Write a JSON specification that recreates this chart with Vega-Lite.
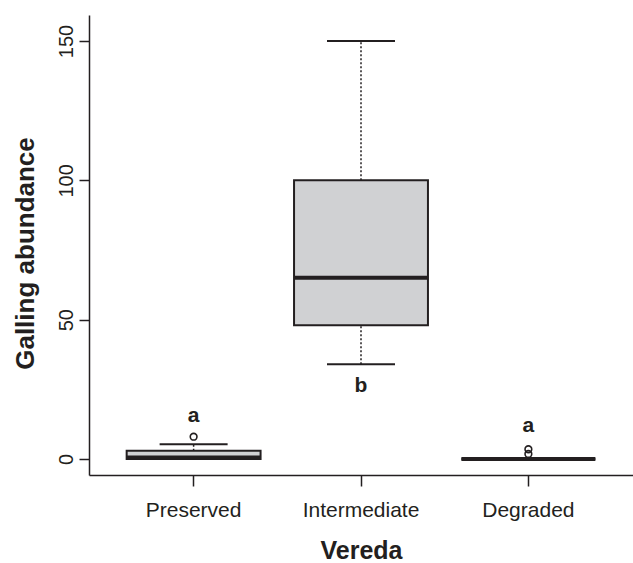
{
  "$schema": "https://vega.github.io/schema/vega-lite/v6.json",
  "autosize": "none",
  "padding": {"left": 89, "top": 15, "right": 0, "bottom": 88},
  "width": 544,
  "height": 460,
  "background": "white",
  "config": {
    "view": {"stroke": null},
    "font": "Liberation Sans"
  },
  "datasets": {
    "stats": [
      {"Vereda": "Preserved", "lower": 0, "q1": 0, "median": 0.5, "q3": 3, "upper": 5.3},
      {"Vereda": "Intermediate", "lower": 34, "q1": 48, "median": 65, "q3": 100, "upper": 150},
      {"Vereda": "Degraded", "lower": 0, "q1": 0, "median": 0, "q3": 0, "upper": 0}
    ],
    "outliers": [
      {"Vereda": "Preserved", "value": 8},
      {"Vereda": "Degraded", "value": 1.8},
      {"Vereda": "Degraded", "value": 3.5}
    ],
    "letters": [
      {"Vereda": "Preserved", "letter": "a", "pos": 13.3},
      {"Vereda": "Intermediate", "letter": "b", "pos": 24},
      {"Vereda": "Degraded", "letter": "a", "pos": 9.7}
    ]
  },
  "encoding": {
    "x": {
      "field": "Vereda",
      "type": "nominal",
      "sort": ["Preserved", "Intermediate", "Degraded"],
      "scale": {"type": "band", "paddingInner": 0.2, "paddingOuter": 0.225},
      "axis": {
        "title": "Vereda",
        "labelAngle": 0,
        "labelFontSize": 21,
        "labelColor": "#231f20",
        "labelBaseline": "alphabetic",
        "labelPadding": 30,
        "tickSize": 11,
        "tickWidth": 1.5,
        "tickColor": "#231f20",
        "domainColor": "#231f20",
        "domainWidth": 1.5,
        "titleFontSize": 25,
        "titleFontWeight": "bold",
        "titleColor": "#231f20",
        "titleBaseline": "alphabetic",
        "titleY": 83,
        "grid": false
      }
    }
  },
  "layer": [
    {
      "data": {"name": "stats"},
      "mark": {"type": "rule", "strokeDash": [2, 2], "strokeWidth": 1.5, "color": "#231f20"},
      "encoding": {
        "y": {
          "field": "q3",
          "type": "quantitative",
          "scale": {"domain": [-5.74, 159.33], "nice": false, "zero": false},
          "axis": {
            "title": "Galling abundance",
            "values": [0, 50, 100, 150],
            "labelAngle": -90,
            "labelAlign": "center",
            "labelBaseline": "alphabetic",
            "labelPadding": 7,
            "labelFontSize": 20,
            "labelColor": "#231f20",
            "tickSize": 10,
            "tickWidth": 1.5,
            "tickColor": "#231f20",
            "domainColor": "#231f20",
            "domainWidth": 1.5,
            "grid": false,
            "titleFontSize": 26,
            "titleFontWeight": "bold",
            "titleColor": "#231f20",
            "titleAngle": -90,
            "titleAlign": "center",
            "titleBaseline": "alphabetic",
            "titleX": -56,
            "titleY": 238
          }
        },
        "y2": {"field": "upper"}
      }
    },
    {
      "data": {"name": "stats"},
      "mark": {"type": "rule", "strokeDash": [2, 2], "strokeWidth": 1.5, "color": "#231f20"},
      "encoding": {
        "y": {"field": "lower", "type": "quantitative"},
        "y2": {"field": "q1"}
      }
    },
    {
      "data": {"name": "stats"},
      "mark": {"type": "tick", "size": 68, "thickness": 2, "color": "#231f20", "opacity": 1},
      "encoding": {"y": {"field": "upper", "type": "quantitative"}}
    },
    {
      "data": {"name": "stats"},
      "mark": {"type": "tick", "size": 68, "thickness": 2, "color": "#231f20", "opacity": 1},
      "encoding": {"y": {"field": "lower", "type": "quantitative"}}
    },
    {
      "data": {"name": "stats"},
      "mark": {"type": "bar", "fill": "#d0d1d3", "stroke": "#231f20", "strokeWidth": 2},
      "encoding": {
        "y": {"field": "q1", "type": "quantitative"},
        "y2": {"field": "q3"}
      }
    },
    {
      "data": {"name": "stats"},
      "mark": {"type": "tick", "size": 134, "thickness": 4, "color": "#231f20", "opacity": 1},
      "encoding": {"y": {"field": "median", "type": "quantitative"}}
    },
    {
      "data": {"name": "outliers"},
      "mark": {"type": "point", "shape": "circle", "filled": false, "size": 45, "strokeWidth": 1.6, "color": "#231f20", "opacity": 1},
      "encoding": {"y": {"field": "value", "type": "quantitative"}}
    },
    {
      "data": {"name": "letters"},
      "mark": {"type": "text", "fontSize": 21, "fontWeight": "bold", "baseline": "alphabetic", "align": "center", "color": "#231f20"},
      "encoding": {
        "y": {"field": "pos", "type": "quantitative"},
        "text": {"field": "letter"}
      }
    }
  ]
}
